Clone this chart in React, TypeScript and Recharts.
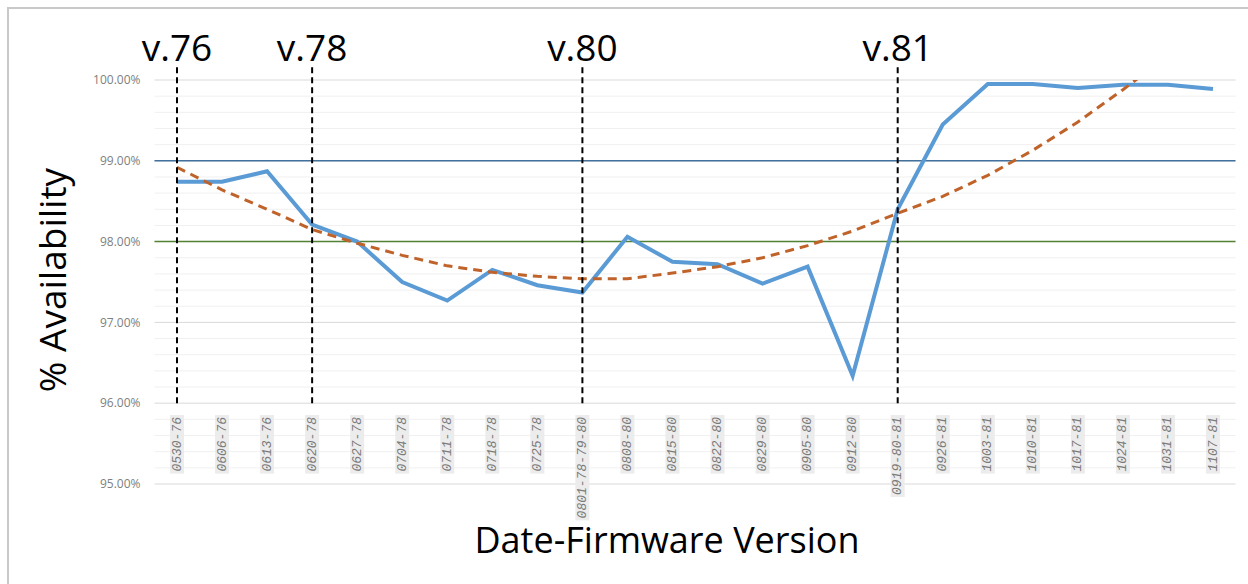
import { LineChart, Line, XAxis, YAxis, CartesianGrid, ReferenceLine } from 'recharts';

const categories = [
  '0530-76', '0606-76', '0613-76', '0620-78', '0627-78', '0704-78', '0711-78', '0718-78',
  '0725-78', '0801-78-79-80', '0808-80', '0815-80', '0822-80', '0829-80', '0905-80', '0912-80',
  '0919-80-81', '0926-81', '1003-81', '1010-81', '1017-81', '1024-81', '1031-81', '1107-81',
];

// weekly availability (%)
const availability = [
  98.74, 98.74, 98.87, 98.21, 98.0, 97.5, 97.27, 97.65,
  97.46, 97.37, 98.06, 97.75, 97.72, 97.48, 97.69, 96.34,
  98.4, 99.45, 99.95, 99.95, 99.9, 99.94, 99.94, 99.89,
];

// polynomial trendline as drawn (runs off the top after 1024)
const trend = [
  98.92, 98.64, 98.4, 98.15, 97.98, 97.83, 97.7, 97.62,
  97.57, 97.54, 97.54, 97.61, 97.69, 97.8, 97.95, 98.13,
  98.35, 98.56, 98.82, 99.13, 99.48, 99.88, 100.3, 100.75,
];

const yTicks = [95, 96, 97, 98, 99, 100];
const minorTicks = [
  95.2, 95.4, 95.6, 95.8, 96.2, 96.4, 96.6, 96.8, 97.2, 97.4,
  97.6, 97.8, 98.2, 98.4, 98.6, 98.8, 99.2, 99.4, 99.6, 99.8,
];

const versionLabels = ['v.76', 'v.78', 'v.80', 'v.81'];
const versionDates = ['0530-76', '0620-78', '0801-78-79-80', '0919-80-81'];
const markerBottom = 96;
const markerTop = 100.16;

const goalUpper = 99;
const goalLower = 98;

const data = categories.map((date, i) => ({
  date,
  availability: availability[i],
  trend: trend[i],
}));

const LABEL_LIFT = 71;

function DateTick(props: any) {
  const { x, y, payload } = props;
  const text: string = payload.value;
  const len = text.length * 7.8 + 4;
  return (
    <g transform={`translate(${x},${y - LABEL_LIFT}) rotate(-90)`}>
      <rect x={-len} y={-7} width={len} height={14} fill="#ececec" />
      <text
        x={-2}
        y={0}
        textAnchor="end"
        dominantBaseline="central"
        fontFamily="'Liberation Mono', monospace"
        fontStyle="italic"
        fontSize={13}
        fill="#7a7a7a"
      >
        {text}
      </text>
    </g>
  );
}

export default function App() {
  return (
    <div style={{ position: 'absolute', left: 0, top: 0, width: 1248, height: 584, background: '#fff', overflow: 'hidden' }}>
      <div
        style={{
          position: 'absolute',
          left: 7,
          top: 7,
          width: 1250,
          height: 590,
          borderTop: '2px solid #c9c9c9',
          borderLeft: '2px solid #c9c9c9',
        }}
      />
      <LineChart
        width={1248}
        height={584}
        data={data}
        margin={{ top: 80, right: 12.5, bottom: 70, left: 94.5 }}
        style={{ position: 'absolute', left: 0, top: 0 }}
      >
        {minorTicks.map((v) => (
          <ReferenceLine key={v} y={v} stroke="#f0f0f0" strokeWidth={1} />
        ))}
        <CartesianGrid vertical={false} stroke="#d9d9d9" />
        <XAxis
          dataKey="date"
          interval={0}
          height={30}
          padding={{ left: 22.5, right: 22.5 }}
          axisLine={false}
          tickLine={false}
          tickSize={0}
          tick={<DateTick />}
        />
        <YAxis
          domain={[95, 100]}
          ticks={yTicks}
          allowDataOverflow
          width={60}
          axisLine={false}
          tickLine={false}
          tickSize={0}
          tickMargin={14}
          tickFormatter={(v: number) => `${v.toFixed(2)}%`}
          tick={{ fill: '#808080', fontSize: 12, fontFamily: "'Open Sans', sans-serif" }}
        />
        <ReferenceLine y={goalUpper} stroke="#41719c" strokeWidth={1.5} />
        <ReferenceLine y={goalLower} stroke="#548235" strokeWidth={1.5} />
        <Line
          dataKey="availability"
          stroke="#5b9bd5"
          strokeWidth={4}
          dot={false}
          activeDot={false}
          isAnimationActive={false}
        />
        <Line
          dataKey="trend"
          stroke="#c0632a"
          strokeWidth={3}
          strokeDasharray="9 6"
          dot={false}
          activeDot={false}
          isAnimationActive={false}
        />
        {versionDates.map((d, i) => (
          <ReferenceLine
            key={d}
            segment={[
              { x: d, y: markerBottom },
              { x: d, y: markerTop },
            ]}
            ifOverflow="visible"
            stroke="#000"
            strokeWidth={2}
            strokeDasharray="6 4"
            label={{
              value: versionLabels[i],
              position: 'top',
              offset: 6,
              fill: '#000',
              fontSize: 37,
              fontFamily: "'Open Sans', sans-serif",
            }}
          />
        ))}
      </LineChart>
      <div
        style={{
          position: 'absolute',
          left: 51,
          top: 280,
          transform: 'translate(-50%, -50%) rotate(-90deg)',
          whiteSpace: 'nowrap',
          fontFamily: "'Open Sans', sans-serif",
          fontSize: 37,
          lineHeight: 1,
          color: '#000',
        }}
      >
        % Availability
      </div>
      <div
        style={{
          position: 'absolute',
          left: 667,
          top: 540,
          transform: 'translate(-50%, -50%)',
          whiteSpace: 'nowrap',
          fontFamily: "'Open Sans', sans-serif",
          fontSize: 36,
          lineHeight: 1,
          color: '#000',
        }}
      >
        Date-Firmware Version
      </div>
    </div>
  );
}
